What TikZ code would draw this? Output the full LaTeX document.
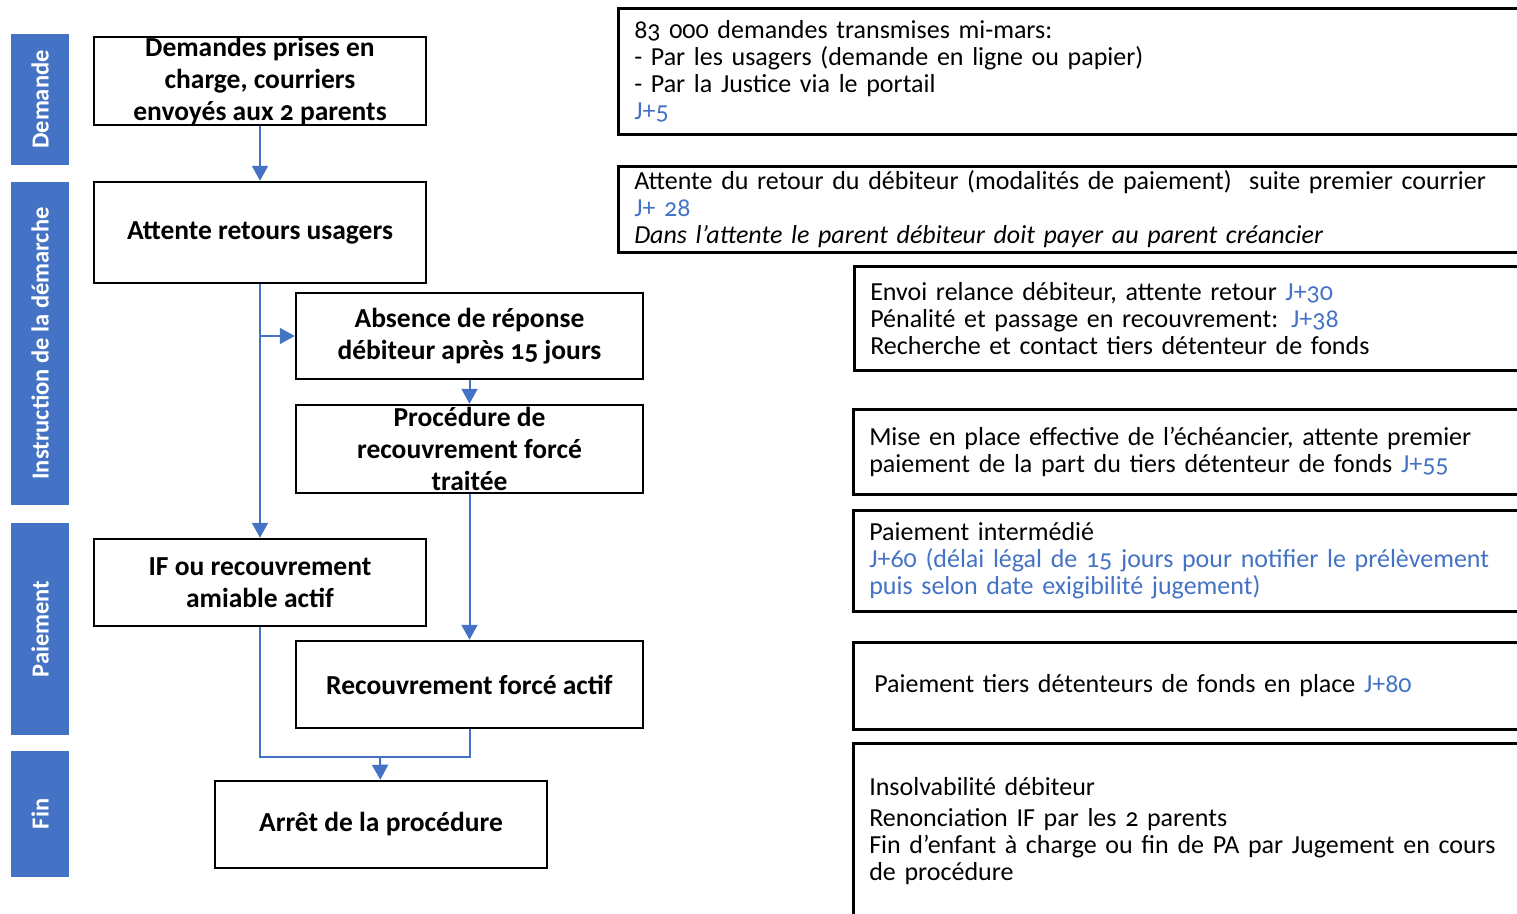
\documentclass[tikz,border=0pt]{standalone}
\usepackage{fontspec}
\setmainfont{Carlito}[Numbers=OldStyle]
\usepackage{tikz}
\usetikzlibrary{arrows.meta,positioning}

\definecolor{laneblue}{HTML}{4472C4}
\definecolor{jblue}{HTML}{4472C4}

\tikzset{
  lane/.style={fill=laneblue,text=white,rotate=90,minimum height=58pt,inner sep=0pt,
    font=\fontsize{24.5}{28}\selectfont\bfseries},
  stepbox/.style={draw,line width=2.5pt,align=center,inner xsep=4pt,inner ysep=0pt,
    minimum width=332pt,font=\fontsize{27.5}{32}\selectfont\bfseries},
  notebox/.style={draw,line width=2.5pt,anchor=north west,align=left,inner xsep=16pt,inner ysep=0pt,
    font=\fontsize{26}{27}\selectfont},
  flowline/.style={draw=laneblue,line width=2pt},
  flow/.style={flowline,-{Triangle[width=16pt,length=15pt]}}
}

\begin{document}
\begin{tikzpicture}[x=1pt,y=-1pt]
  \useasboundingbox (0,0) rectangle (1517,913);
  \clip (0,0) rectangle (1517,913);

  % swimlane headers on the left
  \node[lane,minimum width=131pt] (laneA) at (40,99.5) {Demande};
  \node[lane,minimum width=323pt] (laneB) at (40,343.5) {Instruction de la démarche};
  \node[lane,minimum width=212pt] (laneC) at (40,629) {Paiement};
  \node[lane,minimum width=126pt] (laneD) at (40,814) {Fin};

  % steps of the procedure
  \node[stepbox,minimum height=88pt] (d1) at (260,81) {Demandes prises en\\charge, courriers\\envoyés aux 2 parents};
  \node[stepbox,minimum height=101pt] (d2) at (260,232.5) {Attente retours usagers};
  \node[stepbox,minimum width=347pt,minimum height=86pt] (d3) at (469.5,336) {Absence de réponse\\débiteur après 15 jours};
  \node[stepbox,minimum width=347pt,minimum height=88pt] (d4) at (469.5,449) {Procédure de\\recouvrement forcé\\traitée};
  \node[stepbox,minimum height=87pt] (d5) at (260,582.5) {IF ou recouvrement\\amiable actif};
  \node[stepbox,minimum width=347pt,minimum height=87pt] (d6) at (469.5,684.5) {Recouvrement forcé actif};
  \node[stepbox,minimum height=87pt] (d7) at (381,824.5) {Arrêt de la procédure};

  % connectors between the steps
  \coordinate (br) at (260,336);
  \coordinate (join) at (380,757);
  \draw[flow] (d1) -- (d2);
  \draw[flow] (d2) -- (d5);
  \draw[flow] (br) -- (d3);
  \draw[flow] (d3) -- (d4);
  \draw[flow] (d4) -- (d6);
  \draw[flowline] (d5.south) |- (join) -| (d6.south);
  \draw[flow] (join) -- (d7);

  % notes on the right, cut off by the page edge
  \node[notebox,text width=888pt,minimum height=126pt] (n1) at (617,7)
    {83 000 demandes transmises mi-mars:\\- Par les usagers (demande en ligne ou papier)\\- Par la Justice via le portail\\\textcolor{jblue}{J+5}};
  \node[notebox,text width=888pt,minimum height=86pt] (n2) at (617,165)
    {Attente du retour du débiteur (modalités de paiement)~ suite premier courrier\\\textcolor{jblue}{J+ 28}\\\textit{Dans l’attente le parent débiteur doit payer au parent créancier}};
  \node[notebox,text width=660pt,minimum height=104pt] (n3) at (853,265)
    {Envoi relance débiteur, attente retour \textcolor{jblue}{J+30}\\Pénalité et passage en recouvrement: \textcolor{jblue}{J+38}\\Recherche et contact tiers détenteur de fonds};
  \node[notebox,text width=660pt,minimum height=85pt] (n4) at (852,408)
    {Mise en place effective de l’échéancier, attente premier\\paiement de la part du tiers détenteur de fonds \textcolor{jblue}{J+55}};
  \node[notebox,text width=660pt,minimum height=101pt] (n5) at (852,509)
    {Paiement intermédié\\\textcolor{jblue}{J+60 (délai légal de 15 jours pour notifier le prélèvement}\\\textcolor{jblue}{puis selon date exigibilité jugement)}};
  \node[notebox,text width=660pt,minimum height=87pt] (n6) at (852,641)
    {\hspace{5pt}Paiement tiers détenteurs de fonds en place \textcolor{jblue}{J+80}};
  \node[notebox,text width=660pt,minimum height=176pt] (n7) at (852,742)
    {Insolvabilité débiteur\\[4pt]Renonciation IF par les 2 parents\\Fin d’enfant à charge ou fin de PA par Jugement en cours\\de procédure};
\end{tikzpicture}
\end{document}
